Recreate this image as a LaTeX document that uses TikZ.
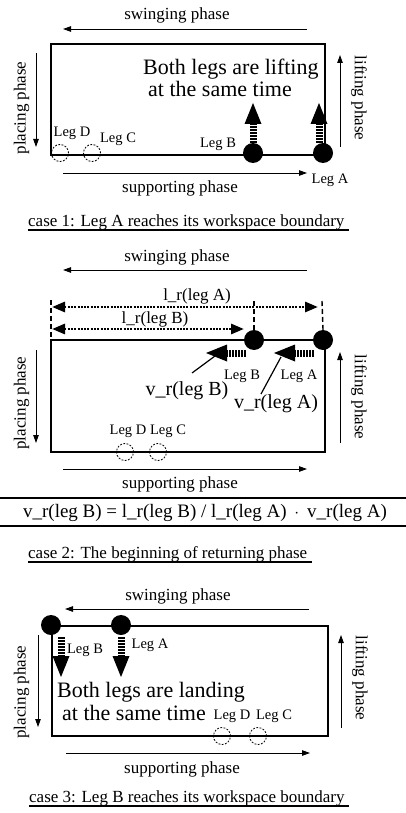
\documentclass[tikz,border=0pt]{standalone}
\usepackage{fontspec}
\setmainfont{Liberation Serif}
\usetikzlibrary{arrows.meta,calc}

\tikzset{
  box/.style={line width=2.6pt},
  phasearrow/.style={line width=0.9pt,-{Triangle[length=8pt,width=5.5pt]}},
  dimarrow/.style={line width=2.8pt,dash pattern=on 2pt off 1.3pt,
    {Triangle[length=13pt,width=10pt]}-{Triangle[length=13pt,width=10pt]}},
  ticks/.style={line width=1.4pt,dash pattern=on 5pt off 3pt},
  pointer/.style={line width=1.2pt},
  rule/.style={line width=1.1pt},
  phasetext/.style={font=\fontsize{17}{20}\selectfont,inner sep=0pt},
  legtext/.style={font=\fontsize{14.5}{17}\selectfont,inner sep=0pt},
  bigtext/.style={font=\fontsize{22}{26}\selectfont,inner sep=0pt},
  vtext/.style={font=\fontsize{20}{24}\selectfont,inner sep=0pt},
  foot/.style={circle,fill=black,minimum size=20pt,inner sep=0pt},
  ghost/.style={circle,draw,line width=0.8pt,dash pattern=on 1.8pt off 1.5pt,
    minimum size=17pt,inner sep=0pt},
  legmove/.pic={
    \draw[line width=7pt,dash pattern=on 1.6pt off 1.4pt] (0,0) -- (19,0);
    \fill (19,-8.5) -- (40,0) -- (19,8.5) -- cycle;
  }
}

\begin{document}
\begin{tikzpicture}[x=1pt,y=-1pt]
\useasboundingbox (0,0) rectangle (406,813);

% ---------------- case 1 ----------------
\node[phasetext,anchor=base] (sw1) at (177,20) {swinging phase};
\coordinate (sw1s) at (307,29); \coordinate (sw1e) at (63,29);
\draw[phasearrow] (sw1s) -- (sw1e);
\draw[box] (51,44) rectangle (325,155);
\node[phasetext,rotate=90] (pl1) at (21.5,108) {placing phase};
\coordinate (pl1s) at (36,53); \coordinate (pl1e) at (36,147);
\draw[phasearrow] (pl1s) -- (pl1e);
\node[phasetext,rotate=-90] (li1) at (359,98) {lifting phase};
\coordinate (li1s) at (340,147); \coordinate (li1e) at (340,55);
\draw[phasearrow] (li1s) -- (li1e);
\coordinate (su1s) at (63,173); \coordinate (su1e) at (307,173);
\draw[phasearrow] (su1s) -- (su1e);
\node[phasetext,anchor=base] (su1) at (180,193) {supporting phase};

\node[bigtext,anchor=base west] (big1a) at (143,75) {Both legs are lifting};
\node[bigtext,anchor=base west] (big1b) at (148,97) {at the same time};

\node[ghost] (D1) at (60,153) {};
\node[ghost] (C1) at (92,153) {};
\node[legtext,anchor=base] (lD1) at (72,137) {Leg D};
\node[legtext,anchor=base] (lC1) at (118,143) {Leg C};
\node[foot] (B1) at (253,153) {};
\node[foot] (A1) at (323,153) {};
\node[legtext,anchor=base] (lB1) at (218,148) {Leg B};
\node[legtext,anchor=base] (lA1) at (330,183) {Leg A};
\pic[rotate=90] at (253,143) {legmove};
\pic[rotate=90] at (319,143) {legmove};

\node[phasetext,anchor=base west] (cap1) at (28,226)
  {case 1: Leg A reaches its workspace boundary};
\draw[rule] ([yshift=-4pt]cap1.base west) -- ([yshift=-4pt,xshift=4pt]cap1.base east);

% ---------------- case 2 ----------------
\node[phasetext,anchor=base] (sw2) at (177,261) {swinging phase};
\coordinate (sw2s) at (307,270); \coordinate (sw2e) at (63,270);
\draw[phasearrow] (sw2s) -- (sw2e);
\draw[box] (51,340) rectangle (325,452);
\node[phasetext,rotate=90] (pl2) at (21.5,403) {placing phase};
\coordinate (pl2s) at (36,350); \coordinate (pl2e) at (36,443);
\draw[phasearrow] (pl2s) -- (pl2e);
\node[phasetext,rotate=-90] (li2) at (359,397) {lifting phase};
\coordinate (li2s) at (340,443); \coordinate (li2e) at (340,352);
\draw[phasearrow] (li2s) -- (li2e);
\coordinate (su2s) at (63,469); \coordinate (su2e) at (307,469);
\draw[phasearrow] (su2s) -- (su2e);
\node[phasetext,anchor=base] (su2) at (180,488) {supporting phase};

\node[foot] (B2) at (254,340) {};
\node[foot] (A2) at (323,340) {};
% reach of each leg, measured from the left boundary
\coordinate (o2top) at (51,300);
\coordinate (o2) at (51,340);
\coordinate (B2top) at (254,301);
\coordinate (A2top) at (322,301);
\draw[ticks] (o2top) -- (o2);
\draw[ticks] (B2top) -- (B2.north);
\draw[ticks] (A2top) -- (A2.north);
\coordinate (lA2l) at (52,307); \coordinate (lA2r) at (318,307);
\coordinate (lB2l) at (52,329); \coordinate (lB2r) at (244,329);
\draw[dimarrow] (lA2l) -- (lA2r);
\draw[dimarrow] (lB2l) -- (lB2r);
\node[phasetext,anchor=base] (lrA) at (197,300) {l\_r(leg A)};
\node[phasetext,anchor=base] (lrB) at (155,323) {l\_r(leg B)};

\pic[rotate=180] at (246,353) {legmove};
\pic[rotate=180] at (314,353) {legmove};
\node[legtext,anchor=base] (lB2) at (242,379) {Leg B};
\node[legtext,anchor=base] (lA2) at (299,379) {Leg A};
\node[vtext,anchor=base] (vB) at (187,395) {v\_r(leg B)};
\node[vtext,anchor=base] (vA) at (276,408) {v\_r(leg A)};
\coordinate (vBtip) at (215,356); \coordinate (vBfoot) at (192,373);
\coordinate (vAtip) at (281,357); \coordinate (vAfoot) at (261,394);
\draw[pointer] (vBfoot) -- (vBtip);
\draw[pointer] (vAfoot) -- (vAtip);

\node[ghost] (D2) at (125,452) {};
\node[ghost] (C2) at (158,452) {};
\node[legtext,anchor=base] (lD2) at (128,434) {Leg D};
\node[legtext,anchor=base] (lC2) at (168,434) {Leg C};

\coordinate (r1l) at (0,498); \coordinate (r1r) at (406,498);
\coordinate (r2l) at (0,526); \coordinate (r2r) at (406,526);
\draw[rule] (r1l) -- (r1r);
\draw[rule] (r2l) -- (r2r);
\node[font=\fontsize{19}{22}\selectfont,inner sep=0pt,anchor=base] (eq) at (205,517)
  {v\_r(leg B) = l\_r(leg B) / l\_r(leg A) \,$\cdot$\, v\_r(leg A)};

\node[phasetext,anchor=base west] (cap2) at (28,558)
  {case 2: The beginning of returning phase};
\draw[rule] ([yshift=-4pt]cap2.base west) -- ([yshift=-4pt,xshift=5pt]cap2.base east);

% ---------------- case 3 ----------------
\node[phasetext,anchor=base] (sw3) at (178,600) {swinging phase};
\coordinate (sw3s) at (309,609); \coordinate (sw3e) at (65,609);
\draw[phasearrow] (sw3s) -- (sw3e);
\draw[box] (52,626) rectangle (328,736);
\node[phasetext,rotate=90] (pl3) at (21.5,692) {placing phase};
\coordinate (pl3s) at (38,635); \coordinate (pl3e) at (38,727);
\draw[phasearrow] (pl3s) -- (pl3e);
\node[phasetext,rotate=-90] (li3) at (360,678) {lifting phase};
\coordinate (li3s) at (341,728); \coordinate (li3e) at (341,635);
\draw[phasearrow] (li3s) -- (li3e);
\coordinate (su3s) at (66,753); \coordinate (su3e) at (310,753);
\draw[phasearrow] (su3s) -- (su3e);
\node[phasetext,anchor=base] (su3) at (182,773) {supporting phase};

\node[foot] (B3) at (51,625) {};
\node[foot] (A3) at (121,625) {};
\pic[rotate=-90] at (61,637) {legmove};
\pic[rotate=-90] at (121,637) {legmove};
\node[legtext,anchor=base] (lB3) at (85,653) {Leg B};
\node[legtext,anchor=base] (lA3) at (150,648) {Leg A};
\node[bigtext,anchor=base west] (big3a) at (57,697) {Both legs are landing};
\node[bigtext,anchor=base west] (big3b) at (62,720) {at the same time};

\node[ghost] (D3) at (222,736) {};
\node[ghost] (C3) at (258,736) {};
\node[legtext,anchor=base] (lD3) at (232,719) {Leg D};
\node[legtext,anchor=base] (lC3) at (274,719) {Leg C};

\node[phasetext,anchor=base west] (cap3) at (29,802)
  {case 3: Leg B reaches its workspace boundary};
\draw[rule] ([yshift=-4pt]cap3.base west) -- ([yshift=-4pt,xshift=4pt]cap3.base east);
\end{tikzpicture}
\end{document}
